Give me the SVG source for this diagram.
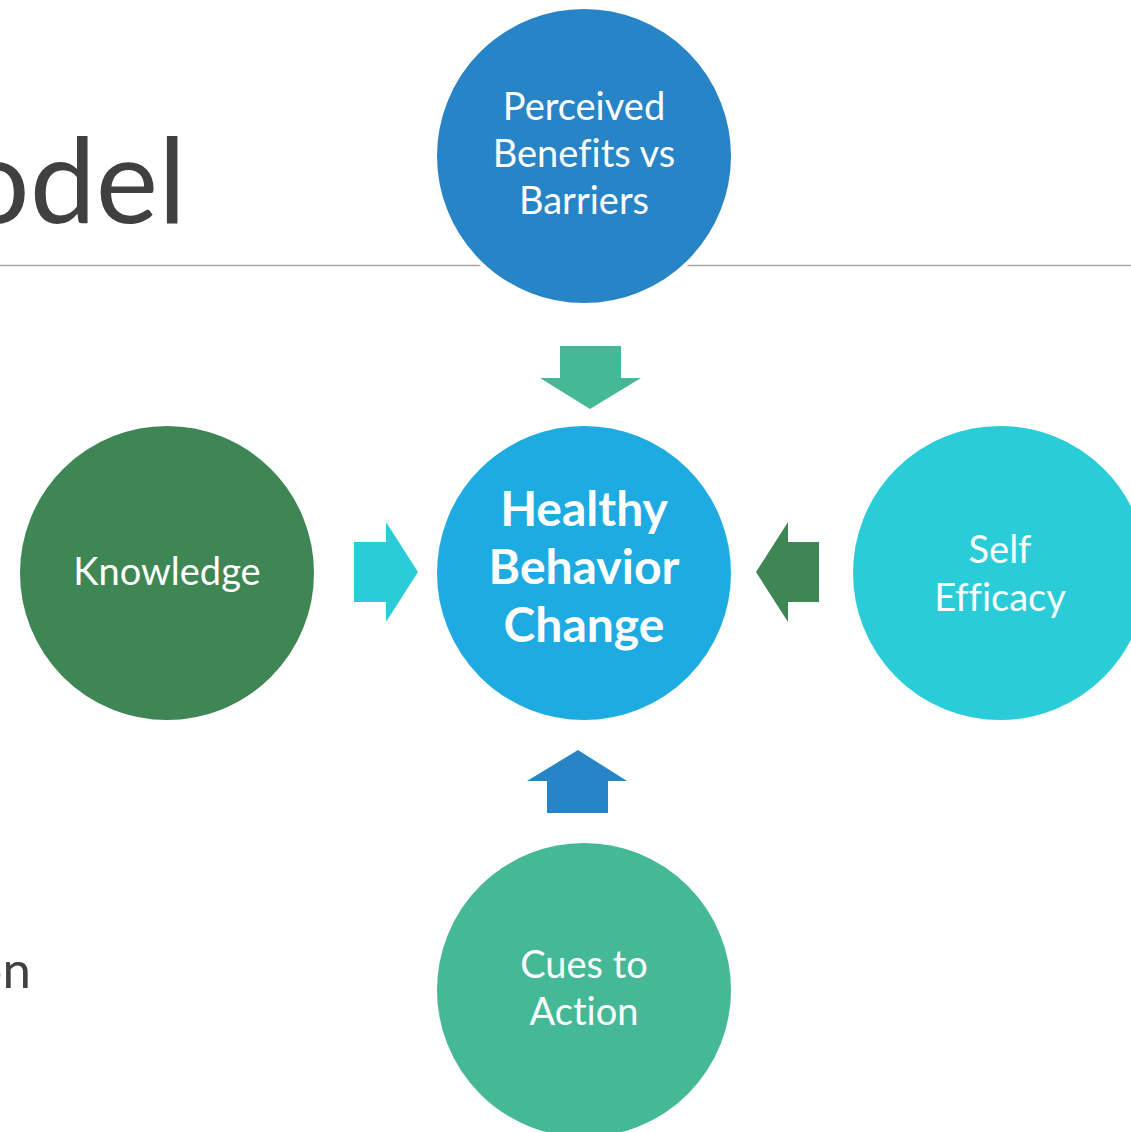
<svg xmlns="http://www.w3.org/2000/svg" width="1131" height="1132" viewBox="0 0 1131 1132">
  <style>
    text { font-variant-ligatures: none; }
    .title { font-family: Lato, "Open Sans", "Liberation Sans", sans-serif; font-weight: 400; fill: #404040; }
    .body { font-family: Lato, "Open Sans", "Liberation Sans", sans-serif; fill: #404040; }
    .lbl { font-family: Lato, "Open Sans", "Liberation Sans", sans-serif; fill: #ffffff; text-anchor: middle; font-size: 38px; }
    .hub { font-family: Lato, "Open Sans", "Liberation Sans", sans-serif; fill: #ffffff; text-anchor: middle; font-size: 48px; font-weight: 700; }
    .node circle { stroke: #ffffff; stroke-width: 4; }
  </style>
  <rect width="1131" height="1132" fill="#ffffff"/>

  <!-- slide title and rule -->
  <text class="title" x="186" y="223" font-size="118" text-anchor="end">odel</text>
  <line x1="0" y1="265.5" x2="1131" y2="265.5" stroke="#a6a6a6" stroke-width="1.6"/>
  <text class="body" x="31" y="988" font-size="51" text-anchor="end">on</text>

  <!-- arrows pointing into the hub -->
  <g id="connectors">
    <polygon points="560,346 621,346 621,378 641,378 590,409 540,378 560,378" fill="#45b996"/>
    <polygon points="354,542 386,542 386,522 418,572 386,622 386,602 354,602" fill="#29ccd7"/>
    <polygon points="819,542 788,542 788,522 756,572 788,622 788,602 819,602" fill="#3e8653"/>
    <polygon points="547,813 608,813 608,781 627,781 578,750 527,781 547,781" fill="#2784c6"/>
  </g>

  <g id="perceived" class="node">
    <circle cx="584" cy="156" r="149" fill="#2784c6"/>
    <text class="lbl" x="584" y="120">Perceived</text>
    <text class="lbl" x="584" y="167">Benefits vs</text>
    <text class="lbl" x="584" y="214">Barriers</text>
  </g>

  <g id="hub" class="node">
    <circle cx="584" cy="573" r="149" fill="#1eabe2"/>
    <text class="hub" x="584" y="526">Healthy</text>
    <text class="hub" x="584" y="584">Behavior</text>
    <text class="hub" x="584" y="642">Change</text>
  </g>

  <g id="knowledge" class="node">
    <circle cx="167" cy="573" r="149" fill="#3e8653"/>
    <text class="lbl" x="167" y="585">Knowledge</text>
  </g>

  <g id="self-efficacy" class="node">
    <circle cx="1000" cy="573" r="149" fill="#29ccd7"/>
    <text class="lbl" x="1000" y="563">Self</text>
    <text class="lbl" x="1000" y="611">Efficacy</text>
  </g>

  <g id="cues" class="node">
    <circle cx="584" cy="990" r="149" fill="#45b996"/>
    <text class="lbl" x="584" y="978">Cues to</text>
    <text class="lbl" x="584" y="1025">Action</text>
  </g>
</svg>
